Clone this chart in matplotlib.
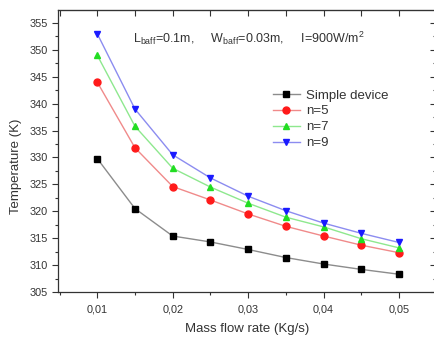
import matplotlib
matplotlib.use("Agg")
import matplotlib.pyplot as plt
from matplotlib.ticker import MultipleLocator, FuncFormatter

plt.rcParams['font.family'] = ['Liberation Sans', 'DejaVu Sans']
plt.rcParams['mathtext.fontset'] = 'custom'
plt.rcParams['mathtext.rm'] = 'Liberation Sans'

# Mass flow rate (kg/s)
flow_rate = [0.010, 0.015, 0.020, 0.025, 0.030, 0.035, 0.040, 0.045, 0.050]

# Outlet temperature (K) for each configuration
temp_simple = [329.8, 320.5, 315.4, 314.3, 312.9, 311.4, 310.2, 309.2, 308.3]
temp_n5 = [344.0, 331.8, 324.6, 322.1, 319.5, 317.2, 315.4, 313.7, 312.3]
temp_n7 = [349.0, 335.8, 328.0, 324.5, 321.5, 318.9, 317.1, 314.9, 313.2]
temp_n9 = [353.0, 339.0, 330.5, 326.2, 322.8, 320.1, 317.8, 315.9, 314.2]

series_labels = ["Simple device", "n=5", "n=7", "n=9"]

W, H = 434, 337
fig = plt.figure(figsize=(W / 100, H / 100), dpi=100)
ax = fig.add_axes([58 / W, 1 - 292 / H, (436 - 58) / W, (292 - 10) / H])

styles = [
    dict(color="#8c8c8c", marker="s", mfc="black", mec="black"),
    dict(color="#f08a8a", marker="o", mfc="#ff1a1a", mec="#ff1a1a"),
    dict(color="#8ee88e", marker="^", mfc="#22dd22", mec="#22dd22"),
    dict(color="#8c8cf0", marker="v", mfc="#1a1aff", mec="#1a1aff"),
]
for ys, lab, st in zip([temp_simple, temp_n5, temp_n7, temp_n9], series_labels, styles):
    ax.plot(flow_rate, ys, lw=1.0, ms=5, label=lab, **st)

ax.set_xlim(0.0048, 0.0549)
ax.set_ylim(305, 357.4)

ax.xaxis.set_major_locator(MultipleLocator(0.01))
ax.xaxis.set_minor_locator(MultipleLocator(0.005))
ax.yaxis.set_major_locator(MultipleLocator(5))
ax.yaxis.set_minor_locator(MultipleLocator(2.5))
ax.xaxis.set_major_formatter(FuncFormatter(lambda v, p: f"{v:.2f}".replace(".", ",")))
ax.yaxis.set_major_formatter(FuncFormatter(lambda v, p: f"{v:.0f}"))

ax.tick_params(which="both", direction="out", top=False, right=False,
               colors="#333333", labelsize=7.8, width=0.8)
ax.tick_params(axis="x", which="major", pad=5)
ax.tick_params(which="major", length=4)
ax.tick_params(which="minor", length=2.5)

# mirrored ticks on the top and right spines pointing inwards
secx = ax.secondary_xaxis("top")
secx.xaxis.set_major_locator(MultipleLocator(0.01))
secx.xaxis.set_minor_locator(MultipleLocator(0.005))
secx.tick_params(which="both", direction="in", labeltop=False, colors="#333333", width=0.8)
secx.tick_params(which="major", length=4)
secx.tick_params(which="minor", length=4)
secy = ax.secondary_yaxis("right")
secy.yaxis.set_major_locator(MultipleLocator(5))
secy.yaxis.set_minor_locator(MultipleLocator(2.5))
secy.tick_params(which="both", direction="in", labelright=False, colors="#333333", width=0.8)
secy.tick_params(which="major", length=4)
secy.tick_params(which="minor", length=2.5)
for sp in list(secx.spines.values()) + list(secy.spines.values()):
    sp.set_color("#333333")
for sp in ax.spines.values():
    sp.set_color("#333333")
    sp.set_linewidth(0.9)

ax.set_xlabel("Mass flow rate (Kg/s)", fontsize=9.5, color="#333333", labelpad=6)
ax.set_ylabel("Temperature (K)", fontsize=9.5, color="#333333")
ax.yaxis.set_label_coords((22 - 58) / 378, (292 - 166) / 282)

ax.text(133 / W, 1 - 38 / H,
        r"$\mathregular{L_{baff}}$=0.1m,     $\mathregular{W_{baff}}$=0.03m,     I=900W/m$^\mathregular{2}$",
        transform=fig.transFigure, fontsize=9, color="#333333", va="center", ha="left")

leg = ax.legend(loc="upper left", bbox_to_anchor=((268 - 58) / 378, (292 - 84) / 282),
                frameon=False, fontsize=9.5, handlelength=2.0, handletextpad=0.5,
                labelspacing=0.28, borderaxespad=0)
for t in leg.get_texts():
    t.set_color("#333333")

fig.savefig("out.png", dpi=100)
